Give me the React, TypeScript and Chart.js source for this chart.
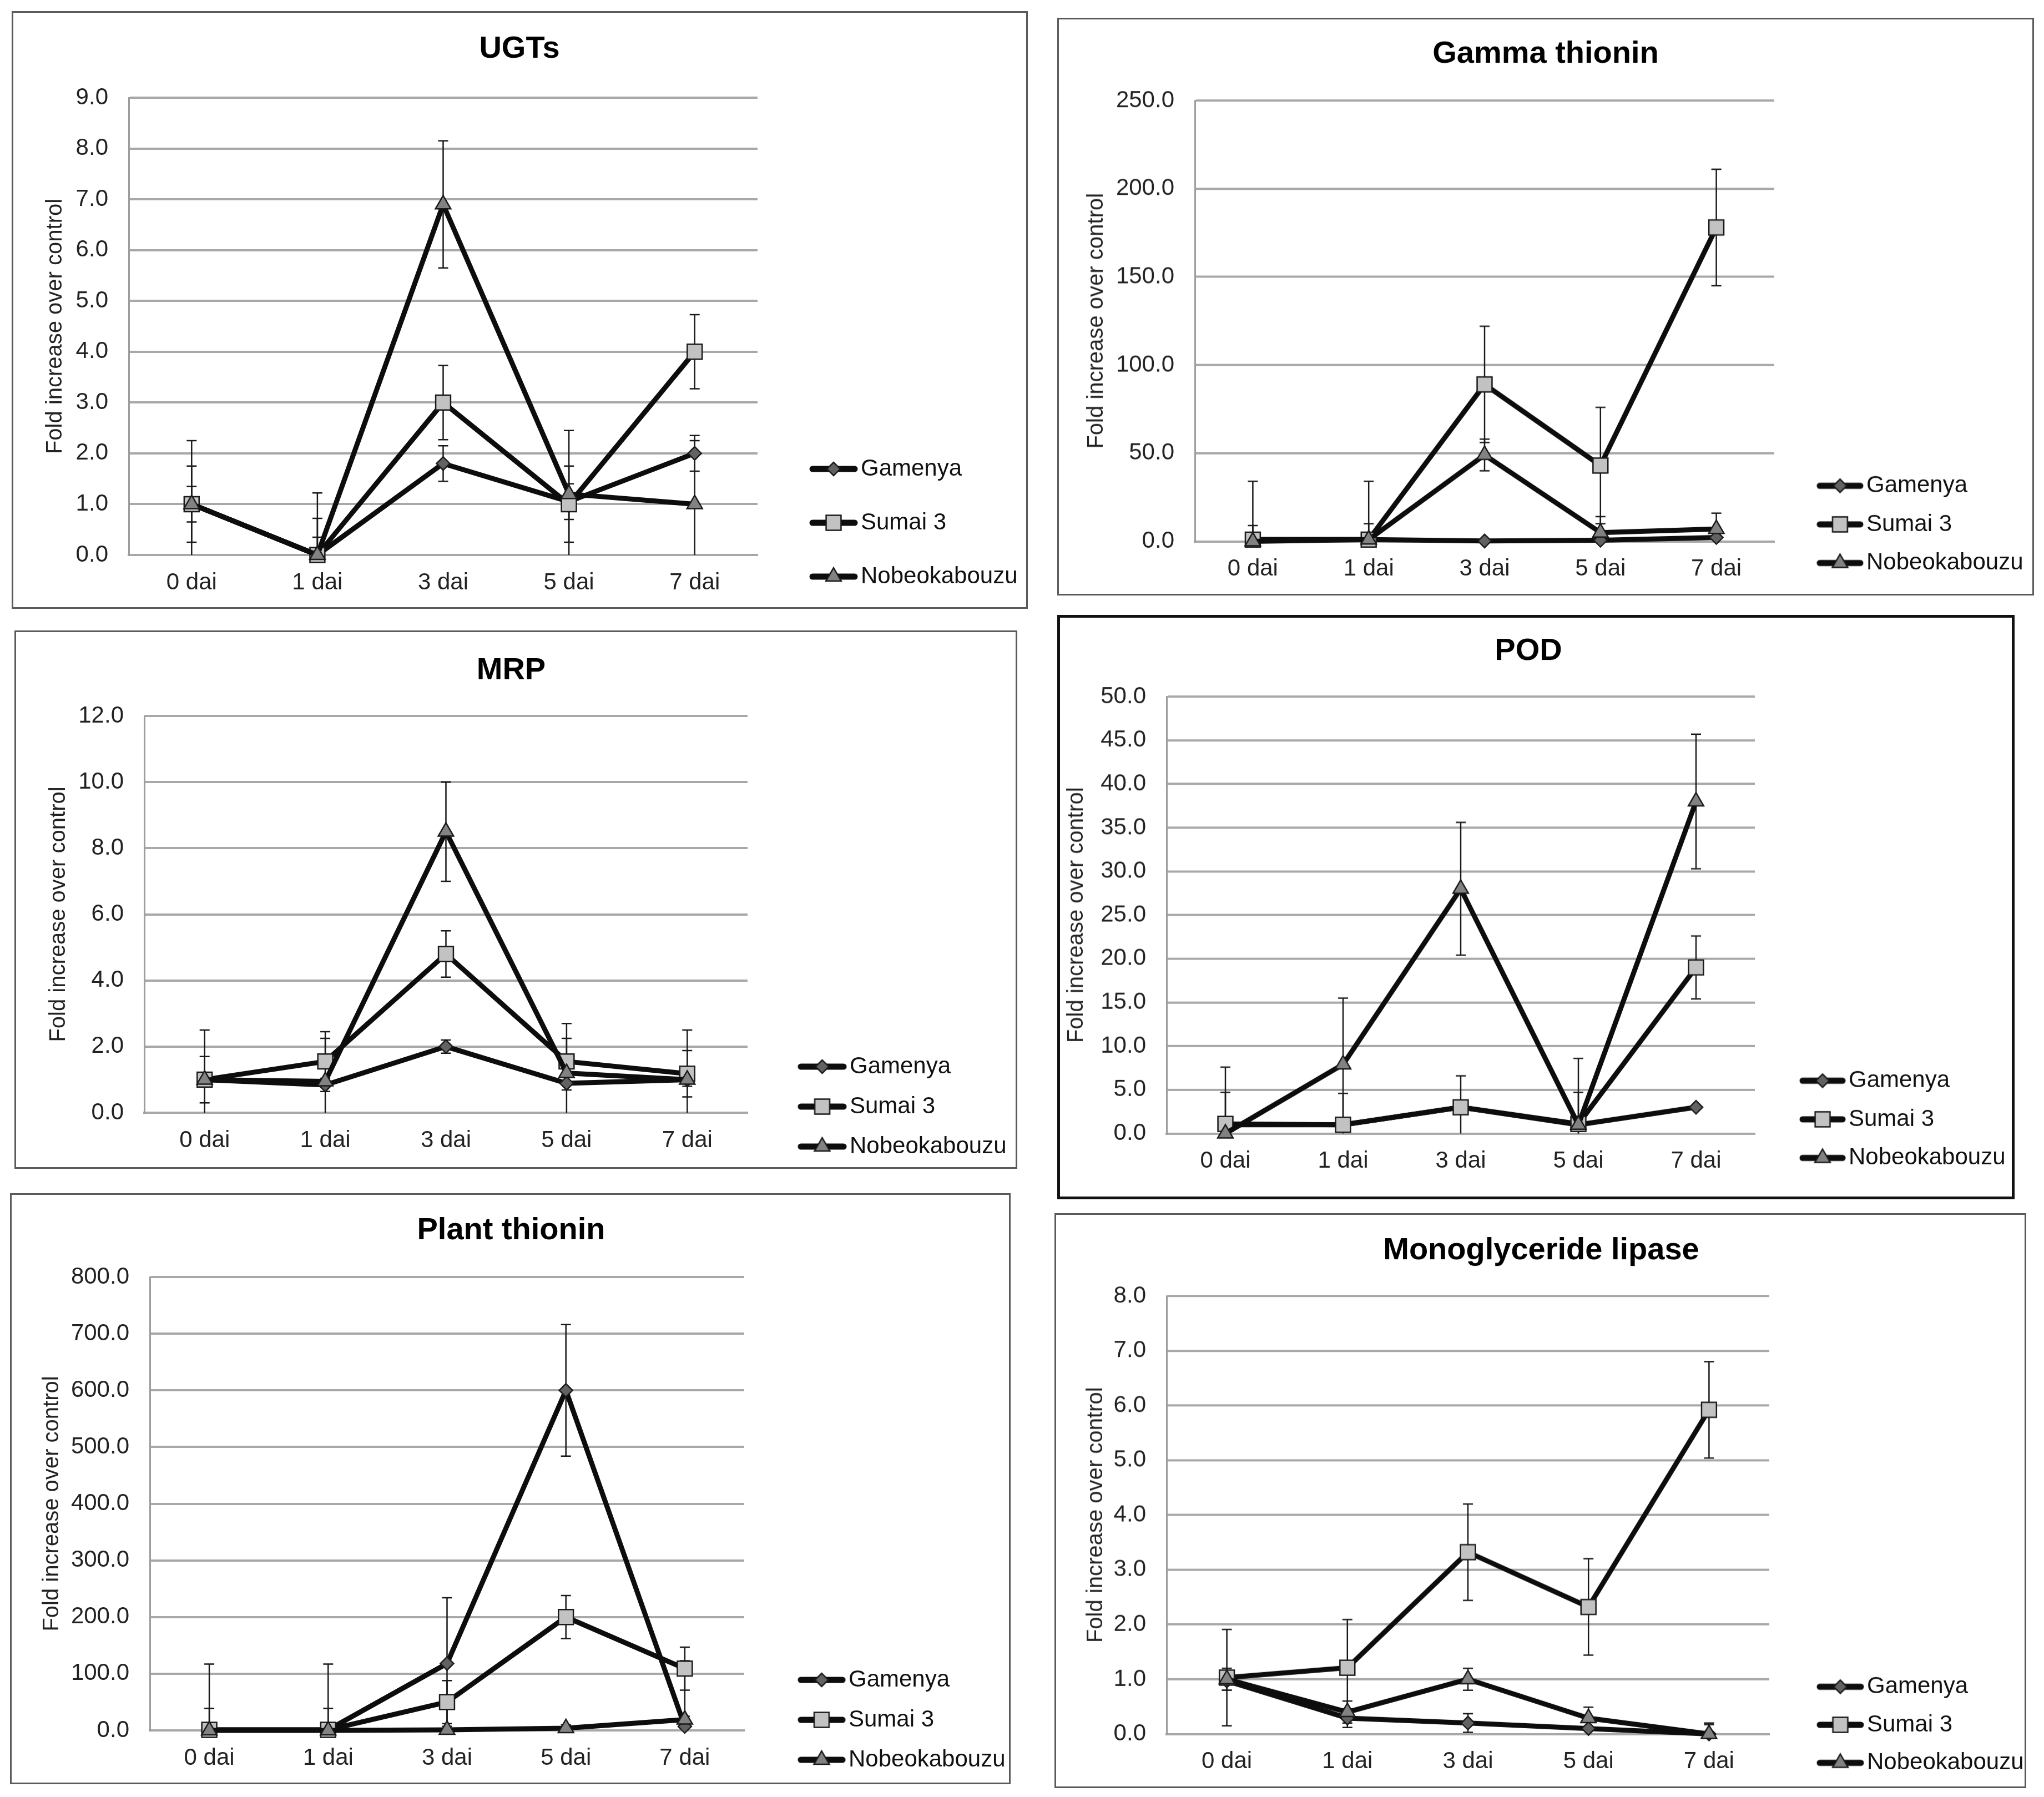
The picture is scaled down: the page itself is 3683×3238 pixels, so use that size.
import React, { useEffect, useRef } from "react";
import { Chart, registerables } from "chart.js";

Chart.register(...registerables);

// ---------------- data ----------------
const categories = ["0 dai", "1 dai", "3 dai", "5 dai", "7 dai"];
const seriesNames = ["Gamenya", "Sumai 3", "Nobeokabouzu"];
const chartTitles = ["UGTs", "Gamma thionin", "MRP", "POD", "Plant thionin", "Monoglyceride lipase"];
const yAxisTitle = "Fold increase over control";
const yMaxValues = [9, 250, 12, 50, 800, 8];
const yStepValues = [1, 50, 2, 5, 100, 1];

// UGTs
const ugtsGamenya = [1.0, 0.0, 1.8, 1.05, 2.0];
const ugtsSumai = [1.0, 0.0, 3.0, 1.0, 4.0];
const ugtsNobeo = [1.0, 0.0, 6.9, 1.2, 1.0];
const ugtsGamenyaErr = [0.35, 0.35, 0.35, 0.35, 0.35];
const ugtsSumaiErr = [0.75, 0.72, 0.73, 0.75, 0.73];
const ugtsNobeoErr = [1.25, 1.22, 1.25, 1.25, 1.25];

// Gamma thionin
const gammaGamenya = [1, 1, 0.2, 0.6, 2.2];
const gammaSumai = [1, 1, 89, 43, 178];
const gammaNobeo = [0, 1, 49, 5, 7];
const gammaGamenyaErr = [1, 1, 1, 1, 1];
const gammaSumaiErr = [33, 33, 33, 33, 33];
const gammaNobeoErr = [9, 9, 9, 9, 9];

// MRP
const mrpGamenya = [1.0, 0.84, 2.0, 0.89, 1.0];
const mrpSumai = [1.0, 1.55, 4.8, 1.55, 1.18];
const mrpNobeo = [1.0, 0.95, 8.5, 1.2, 1.0];
const mrpGamenyaErr = [0.2, 0.2, 0.2, 0.2, 0.2];
const mrpSumaiErr = [0.7, 0.7, 0.7, 0.7, 0.7];
const mrpNobeoErr = [1.5, 1.5, 1.5, 1.5, 1.5];

// POD
const podGamenya = [1, 1, 3, 1, 3];
const podSumai = [1.1, 1.0, 3.0, 1.1, 19.0];
const podNobeo = [0, 7.9, 28, 1.0, 38];
const podGamenyaErr = [0.1, 0.1, 0.1, 0.1, 0.1];
const podSumaiErr = [3.6, 3.6, 3.6, 3.6, 3.6];
const podNobeoErr = [7.6, 7.6, 7.6, 7.6, 7.7];

// Plant thionin
const plantGamenya = [1, 1, 118, 600, 7];
const plantSumai = [1, 1, 50, 200, 109];
const plantNobeo = [0, 0, 1, 4, 19];
const plantGamenyaErr = [116, 116, 116, 116, 116];
const plantSumaiErr = [38, 38, 38, 38, 38];
const plantNobeoErr = [6, 6, 6, 6, 6];

// Monoglyceride lipase
const monoGamenya = [0.97, 0.29, 0.2, 0.1, 0.0];
const monoSumai = [1.03, 1.21, 3.32, 2.32, 5.92];
const monoNobeo = [1.0, 0.4, 1.0, 0.29, 0.0];
const monoGamenyaErr = [0.17, 0.17, 0.17, 0.17, 0.17];
const monoSumaiErr = [0.88, 0.88, 0.88, 0.88, 0.88];
const monoNobeoErr = [0.2, 0.2, 0.2, 0.2, 0.2];

const panelValues = [
  [ugtsGamenya, ugtsSumai, ugtsNobeo],
  [gammaGamenya, gammaSumai, gammaNobeo],
  [mrpGamenya, mrpSumai, mrpNobeo],
  [podGamenya, podSumai, podNobeo],
  [plantGamenya, plantSumai, plantNobeo],
  [monoGamenya, monoSumai, monoNobeo],
];
const panelErrors = [
  [ugtsGamenyaErr, ugtsSumaiErr, ugtsNobeoErr],
  [gammaGamenyaErr, gammaSumaiErr, gammaNobeoErr],
  [mrpGamenyaErr, mrpSumaiErr, mrpNobeoErr],
  [podGamenyaErr, podSumaiErr, podNobeoErr],
  [plantGamenyaErr, plantSumaiErr, plantNobeoErr],
  [monoGamenyaErr, monoSumaiErr, monoNobeoErr],
];

// ---------------- layout & style ----------------
const FONT = "'Liberation Sans', Arial, Helvetica, sans-serif";
const LEG_FONT = 42;
const TITLE_FONT = 56;
const YT_FONT = 40;
const TICK_FONT = 42;
const GRID = "#a8a8a8";
const LINE = "#0d0d0d";

const markerStyles = [
  { style: "rectRot", r: 12, fill: "#626262" },
  { style: "rect", r: 19, fill: "#c2c2c2" },
  { style: "triangle", r: 16, fill: "#828282" },
];

// absolute page coordinates
const layouts = [
  { box: [21, 20, 1852, 1097], bw: 3, bc: "#5a5a5a", chart: [232, 176, 1365, 1000], title: [936, 89], yTitleX: 100, legend: { lineStart: 1459, textStart: 1551, spacing: 97, last: 1039 } },
  { box: [1905, 32, 3665, 1073], bw: 3, bc: "#5a5a5a", chart: [2153, 181, 3197, 975], title: [2785, 98], yTitleX: 1976, legend: { lineStart: 3274, textStart: 3363, spacing: 69.5, last: 1014 } },
  { box: [26, 1136, 1833, 2106], bw: 3, bc: "#5a5a5a", chart: [260, 1290, 1347, 2005], title: [921, 1209], yTitleX: 106, legend: { lineStart: 1438, textStart: 1531, spacing: 72, last: 2066 } },
  { box: [1905, 1108, 3630, 2161], bw: 5, bc: "#111111", chart: [2102, 1255, 3162, 2042], title: [2754, 1174], yTitleX: 1940, legend: { lineStart: 3243, textStart: 3331, spacing: 69.5, last: 2086 } },
  { box: [18, 2150, 1821, 3215], bw: 3, bc: "#5a5a5a", chart: [270, 2301, 1341, 3118], title: [921, 2218], yTitleX: 94, legend: { lineStart: 1438, textStart: 1529, spacing: 72, last: 3171 } },
  { box: [1900, 2186, 3651, 3222], bw: 3, bc: "#5a5a5a", chart: [2102, 2335, 3188, 3124], title: [2777, 2254], yTitleX: 1975, legend: { lineStart: 3274, textStart: 3364, spacing: 68.5, last: 3176 } },
];

function geometry(L: any) {
  const ox = L.box[0] + L.bw;
  const oy = L.box[1] + L.bw;
  const innerW = L.box[2] - L.box[0] - 2 * L.bw;
  const cl = L.chart[0] - ox;
  const ct = L.chart[1] - oy;
  const cr = L.chart[2] - ox;
  const cb = L.chart[3] - oy;
  const tcx = L.title[0] - ox;
  const tcy = L.title[1] - oy;
  const ytx = L.yTitleX - ox;
  const textRel = L.legend.textStart - L.chart[2];
  const lineRel = L.legend.lineStart - L.chart[2];
  const LW = textRel + 320;
  const pl = 2 * tcx - cr - LW;
  const W = Math.ceil(Math.max(innerW + 20, cr + LW + 20));
  const pr = W - cr - LW;
  const p = L.legend.spacing - LEG_FONT;
  const H = L.legend.last - oy + p + LEG_FONT / 2;
  const xH = H - cb;
  const yW = cl - pl;
  const tLH = TITLE_FONT * 1.2;
  const tPadTop = tcy - tLH / 2;
  const tPadBottom = ct - tPadTop - tLH;
  const yLH = YT_FONT * 1.2;
  const yPad = ytx - pl - yLH / 2;
  const boxW = textRel - p - LEG_FONT / 2;
  return { W, H, LW, pl, pr, p, xH, yW, tPadTop, tPadBottom, yPad, textRel, lineRel, boxW };
}

function drawMarker(ctx: CanvasRenderingContext2D, s: number, x: number, y: number) {
  const m = markerStyles[s];
  const r = m.r;
  ctx.beginPath();
  if (m.style === "rectRot") {
    ctx.moveTo(x - r, y);
    ctx.lineTo(x, y - r);
    ctx.lineTo(x + r, y);
    ctx.lineTo(x, y + r);
  } else if (m.style === "rect") {
    const h = r * Math.SQRT1_2;
    ctx.rect(x - h, y - h, 2 * h, 2 * h);
  } else {
    let a = 0;
    ctx.moveTo(x + Math.sin(a) * r, y - Math.cos(a) * r);
    a += (2 * Math.PI) / 3;
    ctx.lineTo(x + Math.sin(a) * r, y - Math.cos(a) * r);
    a += (2 * Math.PI) / 3;
    ctx.lineTo(x + Math.sin(a) * r, y - Math.cos(a) * r);
  }
  ctx.closePath();
  ctx.fillStyle = m.fill;
  ctx.fill();
  ctx.lineWidth = 2.5;
  ctx.strokeStyle = "#1a1a1a";
  ctx.stroke();
}

function makeLegendImage(s: number, g: any) {
  const c = g.p + g.boxW / 2;
  const a = g.lineRel;
  const b = g.textRel - 6;
  const half = Math.ceil(Math.max(c - a, b - c)) + 4;
  const cv = document.createElement("canvas");
  cv.width = 2 * half;
  cv.height = 64;
  const ctx = cv.getContext("2d") as CanvasRenderingContext2D;
  const off = half - c;
  ctx.strokeStyle = LINE;
  ctx.lineWidth = 11;
  ctx.lineCap = "round";
  ctx.beginPath();
  ctx.moveTo(a + off + 5, 32);
  ctx.lineTo(b + off - 5, 32);
  ctx.stroke();
  drawMarker(ctx, s, (a + b) / 2 + off, 32);
  return cv;
}

const errorBarPlugin = {
  id: "errorBars",
  beforeDatasetsDraw(chart: any) {
    const { ctx, chartArea } = chart;
    const y = chart.scales.y;
    ctx.save();
    ctx.beginPath();
    ctx.rect(chartArea.left, chartArea.top - 2, chartArea.right - chartArea.left, chartArea.bottom - chartArea.top + 2);
    ctx.clip();
    ctx.strokeStyle = "#1a1a1a";
    ctx.lineWidth = 2.5;
    chart.data.datasets.forEach((ds: any, i: number) => {
      const errs = ds.errorBars;
      if (!errs) return;
      const meta = chart.getDatasetMeta(i);
      meta.data.forEach((pt: any, j: number) => {
        const v = ds.data[j];
        const e = errs[j];
        const x = pt.x;
        const yTop = y.getPixelForValue(v + e);
        const yBot = y.getPixelForValue(v - e);
        ctx.beginPath();
        ctx.moveTo(x, yTop);
        ctx.lineTo(x, yBot);
        ctx.moveTo(x - 9, yTop);
        ctx.lineTo(x + 9, yTop);
        ctx.moveTo(x - 9, yBot);
        ctx.lineTo(x + 9, yBot);
        ctx.stroke();
      });
    });
    ctx.restore();
  },
};

// keeps the legend box at a fixed width so its (clipped) area holds the full labels
const legendWidthPlugin = {
  id: "legendWidth",
  beforeLayout(chart: any, _args: any, opts: any) {
    const lg = chart.legend;
    if (lg && !lg.__fixedWidth) {
      const orig = lg.fit.bind(lg);
      lg.fit = function () {
        orig();
        this.width = opts.width;
      };
      lg.__fixedWidth = true;
    }
  },
};

function Panel({ idx }: { idx: number }) {
  const ref = useRef<HTMLCanvasElement>(null);
  const L = layouts[idx];
  const g = geometry(L);

  useEffect(() => {
    const canvas = ref.current;
    if (!canvas) return;
    const imgs = seriesNames.map((_, s) => makeLegendImage(s, g));
    const datasets = seriesNames.map((name, s) => ({
      label: name,
      data: panelValues[idx][s],
      errorBars: panelErrors[idx][s],
      borderColor: LINE,
      borderWidth: 9,
      borderJoinStyle: "round",
      tension: 0,
      fill: false,
      pointStyle: markerStyles[s].style,
      pointRadius: markerStyles[s].r,
      pointHoverRadius: markerStyles[s].r,
      pointBackgroundColor: markerStyles[s].fill,
      pointBorderColor: "#1a1a1a",
      pointBorderWidth: 2.5,
      order: 2 - s,
      clip: false,
    }));
    const chart = new Chart(canvas, {
      type: "line",
      data: { labels: categories, datasets: datasets as any },
      options: {
        responsive: false,
        animation: false,
        devicePixelRatio: 1,
        events: [],
        layout: { padding: { left: g.pl, right: g.pr, top: 0, bottom: 0 } },
        plugins: {
          legendWidth: { width: g.LW },
          title: {
            display: true,
            text: chartTitles[idx],
            color: "#000",
            font: { family: FONT, size: TITLE_FONT, weight: "bold" },
            padding: { top: g.tPadTop, bottom: g.tPadBottom },
          },
          legend: {
            display: true,
            position: "right",
            align: "end",
            fullSize: true,
            labels: {
              usePointStyle: true,
              pointStyleWidth: g.boxW,
              padding: g.p,
              color: "#111",
              font: { family: FONT, size: LEG_FONT },
              generateLabels: () =>
                seriesNames.map((name, s) => ({
                  text: name,
                  pointStyle: imgs[s],
                  fillStyle: "#000",
                  strokeStyle: "#000",
                  lineWidth: 0,
                  hidden: false,
                  datasetIndex: s,
                  fontColor: "#111",
                })),
            },
          },
          tooltip: { enabled: false },
        },
        scales: {
          x: {
            type: "category",
            offset: true,
            grid: { display: false, drawTicks: false },
            border: { display: true, color: GRID, width: 4 },
            ticks: { font: { family: FONT, size: TICK_FONT }, color: "#222", padding: 25, maxRotation: 0, autoSkip: false },
            afterFit: (s: any) => {
              s.height = g.xH;
            },
          },
          y: {
            min: 0,
            max: yMaxValues[idx],
            grid: { color: GRID, lineWidth: 4, drawTicks: false },
            border: { display: true, color: "#9d9d9d", width: 3 },
            ticks: {
              stepSize: yStepValues[idx],
              padding: 37,
              color: "#222",
              font: { family: FONT, size: TICK_FONT },
              callback: (v: any) => Number(v).toFixed(1),
            },
            title: {
              display: true,
              text: yAxisTitle,
              color: "#222",
              font: { family: FONT, size: YT_FONT },
              padding: { top: g.yPad, bottom: 0 },
            },
            afterFit: (s: any) => {
              s.width = g.yW;
            },
          },
        },
      } as any,
      plugins: [errorBarPlugin as any, legendWidthPlugin as any],
    });
    return () => chart.destroy();
  }, []);

  return (
    <div
      style={{
        position: "absolute",
        left: L.box[0],
        top: L.box[1],
        width: L.box[2] - L.box[0],
        height: L.box[3] - L.box[1],
        border: `${L.bw}px solid ${L.bc}`,
        boxSizing: "border-box",
        overflow: "hidden",
        background: "#fff",
      }}
    >
      <canvas
        ref={ref}
        width={g.W}
        height={g.H}
        style={{ position: "absolute", left: 0, top: 0, width: g.W, height: g.H }}
      />
    </div>
  );
}

export default function App() {
  return (
    <div>
      {layouts.map((_, i) => (
        <Panel key={i} idx={i} />
      ))}
    </div>
  );
}
